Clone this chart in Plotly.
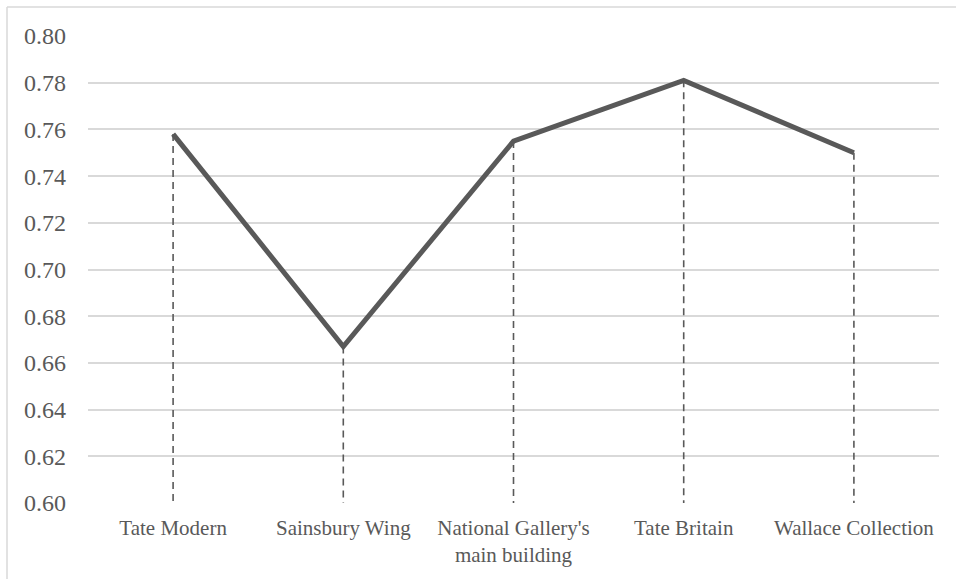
import plotly.graph_objects as go

categories = ["Tate Modern", "Sainsbury Wing", "National Gallery's<br>main building", "Tate Britain", "Wallace Collection"]
values = [0.758, 0.667, 0.755, 0.781, 0.750]
y_ticks = [0.60, 0.62, 0.64, 0.66, 0.68, 0.70, 0.72, 0.74, 0.76, 0.78, 0.80]
y_min, y_max = 0.60, 0.80

W, H = 956, 579
L, R, T, B = 88, 17, 36, 74
pw, ph = W - L - R, H - T - B

FONT = "Liberation Serif, serif"
TXT = "#595959"

fig = go.Figure()

# drop lines
dx, dy = [], []
for i, v in enumerate(values):
    dx += [i, i, None]
    dy += [v, y_min, None]
fig.add_trace(go.Scatter(x=dx, y=dy, mode="lines",
                         line=dict(color="#595959", width=1.6, dash="7px,5px"),
                         hoverinfo="skip", showlegend=False))

fig.add_trace(go.Scatter(x=list(range(len(values))), y=values, mode="lines",
                         line=dict(color="#595959", width=5),
                         showlegend=False))

def px2x(p):
    return (p - L) / pw

def py2y(p):
    return (H - B - p) / ph

shapes = [
    dict(type="line", xref="paper", yref="paper", x0=px2x(7), x1=px2x(960), y0=py2y(7), y1=py2y(7),
         line=dict(color="#d9d9d9", width=1.5)),
    dict(type="line", xref="paper", yref="paper", x0=px2x(7), x1=px2x(7), y0=py2y(7), y1=py2y(585),
         line=dict(color="#d9d9d9", width=1.5)),
]

fig.update_layout(
    width=W, height=H,
    margin=dict(l=L, r=R, t=T, b=B),
    paper_bgcolor="white", plot_bgcolor="white",
    font=dict(family=FONT, color=TXT),
    shapes=shapes,
    xaxis=dict(
        range=[-0.5, len(values) - 0.5],
        tickmode="array", tickvals=list(range(len(categories))), ticktext=categories,
        showgrid=False, zeroline=False, showline=False, ticks="", ticklabelstandoff=10,
        tickfont=dict(size=21, family=FONT, color=TXT),
        fixedrange=True,
    ),
    yaxis=dict(
        range=[y_min, y_max],
        tickmode="array", tickvals=y_ticks, ticktext=[f"{t:.2f}" for t in y_ticks],
        showgrid=True, gridcolor="#d9d9d9", gridwidth=1.5,
        zeroline=False, showline=False, ticks="", ticklabelstandoff=21,
        tickfont=dict(size=24, family=FONT, color=TXT),
        fixedrange=True,
    ),
)

fig.write_html("out.html")
